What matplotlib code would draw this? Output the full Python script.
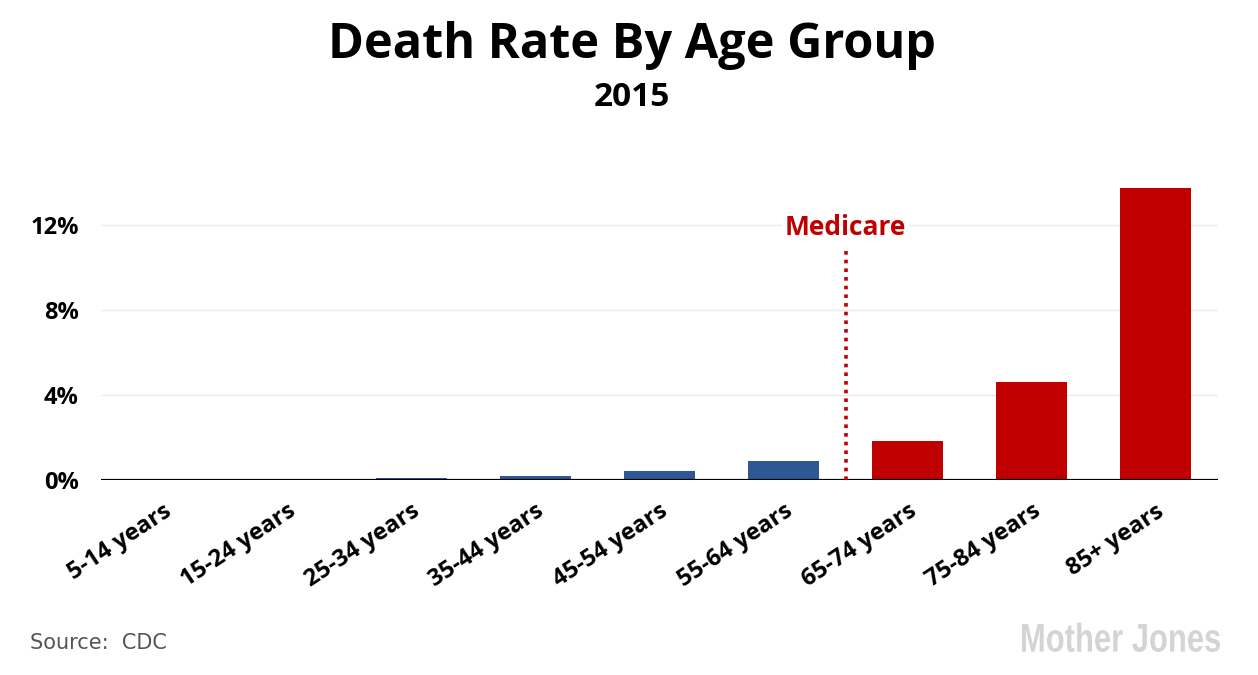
import numpy as np
import matplotlib.pyplot as plt
from matplotlib.textpath import TextPath
from matplotlib.patches import PathPatch
from matplotlib.font_manager import FontProperties
from matplotlib.transforms import Affine2D, IdentityTransform

ages = ["5-14 years", "15-24 years", "25-34 years", "35-44 years", "45-54 years",
        "55-64 years", "65-74 years", "75-84 years", "85+ years"]
rates = [0.04, 0.07, 0.10, 0.18, 0.42, 0.89, 1.84, 4.61, 13.74]  # percent
medicare = [False, False, False, False, False, False, True, True, True]
yticks = [0, 4, 8, 12]

blue = "#2e5795"
red = "#c00000"
bold_font = ["Open Sans", "DejaVu Sans"]

fig = plt.figure(figsize=(12.58, 6.75), dpi=100)
ax = fig.add_axes([0.0803, 0.2889, 0.8877, 0.456])

x = np.arange(len(ages))
colors = [red if m else blue for m in medicare]
ax.bar(x, rates, width=0.57, color=colors, zorder=3)

ax.set_xlim(-0.5, len(ages) - 0.5)
ax.set_ylim(0, 14.5)
ax.set_yticks(yticks)
ax.set_yticklabels([f"{v}%" for v in yticks], fontsize=17, fontweight="bold",
                   family=bold_font)
ax.set_xticks(x)
ax.set_xticklabels(ages, rotation=33.5, ha="right", rotation_mode="anchor",
                   fontsize=17, fontweight="bold", family=bold_font)
ax.tick_params(axis="both", length=0)
ax.tick_params(axis="y", pad=16)
ax.tick_params(axis="x", pad=14)

ax.grid(axis="y", color="#ebebeb", linewidth=1, zorder=0)
for s in ["top", "right", "left", "bottom"]:
    ax.spines[s].set_visible(False)
ax.axhline(0, color="black", linewidth=1.6, zorder=4)

# medicare divider
ax.plot([5.5, 5.5], [0, 10.9], color=red, linestyle=(0, (1, 1.4)),
        linewidth=2.6, zorder=4)
ax.text(5.5, 11.9, "Medicare", color=red, fontsize=19, fontweight="bold",
        family=bold_font, ha="center", va="center", zorder=5,
        bbox=dict(facecolor="white", edgecolor="none", pad=2))

fig.text(0.502, 0.932, "Death Rate By Age Group", ha="center", va="center",
         fontsize=35, fontweight="bold", family=bold_font)
fig.text(0.502, 0.856, "2015", ha="center", va="center",
         fontsize=24, fontweight="bold", family=bold_font)

fig.text(0.024, 0.047, "Source:  CDC", ha="left", va="center",
         fontsize=15, color="#555555", family="DejaVu Sans")

# condensed logo text
fp = FontProperties(family=["Liberation Sans", "DejaVu Sans"], weight="bold")
tp = TextPath((0, 0), "Mother Jones", size=40, prop=fp)
bb = tp.get_extents()
sx = 198 / bb.width
tr = Affine2D().translate(-bb.x0, -bb.y0).scale(sx, 1.0).translate(1022, 675 - 652)
logo = PathPatch(tr.transform_path(tp), facecolor="#d4d4d4", edgecolor="none",
                 transform=IdentityTransform())
fig.patches.append(logo)

fig.savefig("out.png", dpi=100)
